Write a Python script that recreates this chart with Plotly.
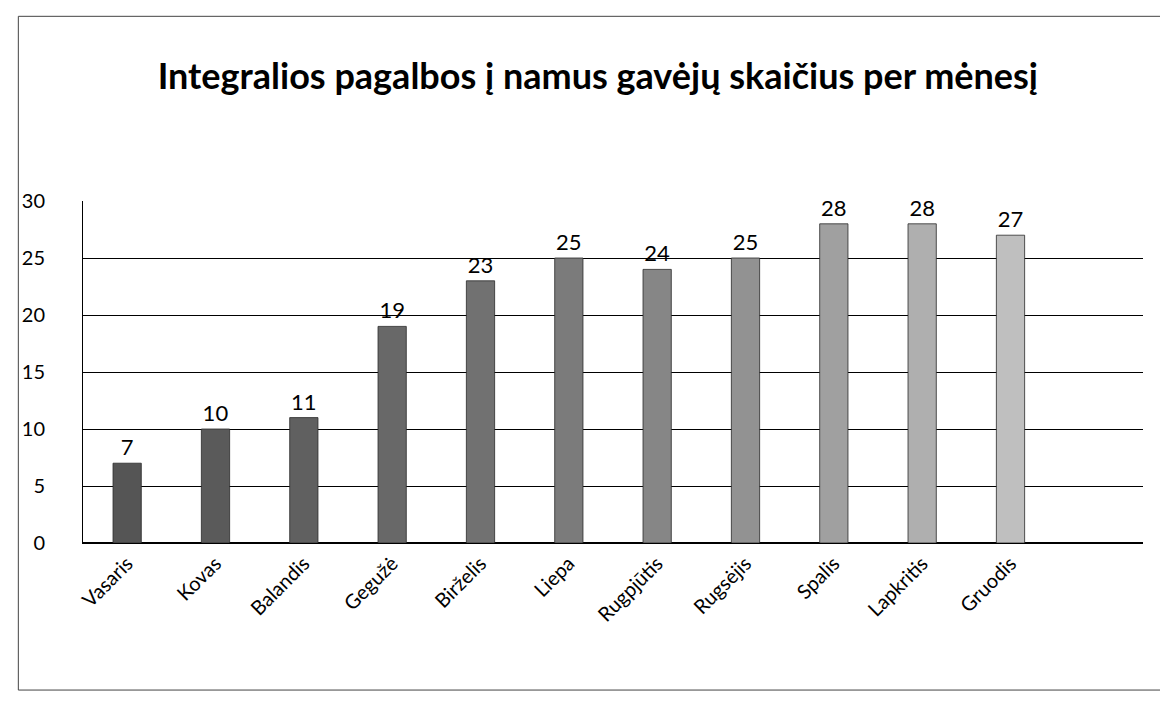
import plotly.graph_objects as go

months = ["Vasaris", "Kovas", "Balandis", "Gegužė", "Birželis", "Liepa",
          "Rugpjūtis", "Rugsėjis", "Spalis", "Lapkritis", "Gruodis"]
recipients = [7, 10, 11, 19, 23, 25, 24, 25, 28, 28, 27]
title_text = "Integralios pagalbos į namus gavėjų skaičius per mėnesį"

bar_colors = ["#555555", "#5a5a5a", "#606060", "#686868", "#717171", "#7b7b7b",
              "#868686", "#929292", "#a0a0a0", "#afafaf", "#bfbfbf"]

fig = go.Figure()
fig.add_trace(go.Bar(
    x=months, y=recipients,
    text=[str(v) for v in recipients], textposition="outside",
    textfont=dict(size=22, color="black", family="Lato"),
    cliponaxis=False,
    width=0.32,
    marker=dict(color=bar_colors, line=dict(color="#2a2a2a", width=0.8)),
))

fig.update_layout(
    width=1168, height=704,
    paper_bgcolor="white", plot_bgcolor="white",
    margin=dict(l=75, r=33, t=193, b=169),
    title=dict(text=f"<b>{title_text}</b>", x=0.505, xanchor="center", y=0.903, yanchor="middle",
               font=dict(size=36, family="Lato", color="black")),
    font=dict(family="Lato", color="black"),
    showlegend=False,
    shapes=[dict(type="rect", xref="paper", yref="paper", x0=-0.061, x1=1.024, y0=-0.43, y1=1.54,
                 line=dict(color="#444", width=1))],
)
fig.update_xaxes(range=[-0.5, 11.5], tickangle=-45, tickfont=dict(size=20),
                 showline=True, linecolor="black", linewidth=1, ticks="")
fig.update_yaxes(range=[0, 30], dtick=5, tickfont=dict(size=20), gridcolor="black", gridwidth=1,
                 showline=True, linecolor="black", linewidth=1, zeroline=True, zerolinecolor="black",
                 ticklabelstandoff=33)
fig.write_html("out.html")
